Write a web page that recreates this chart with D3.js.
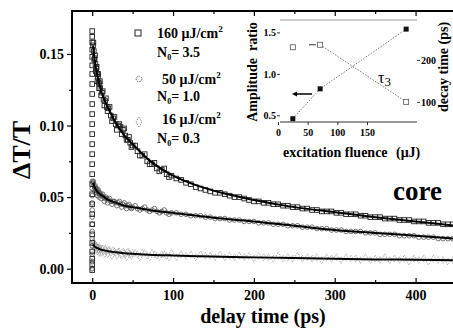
<!DOCTYPE html>
<html>
<head>
<meta charset="utf-8">
<script src="https://d3js.org/d3.v7.min.js"></script>
<style>
  body { margin: 0; background: #fff; }
  text { font-family: "Liberation Serif", "Times New Roman", serif; font-weight: bold; fill: #000; }
  .main .tick text { font-size: 14px; }
  .inset .tick text { font-size: 10px; }
  .tick line { stroke: #000; stroke-width: 1.2; }
  .inset .tick line { stroke: #333; stroke-width: 1; }
</style>
</head>
<body>
<div id="viz"></div>
<script>
// ---- data ----
const delay = [1,2,3,4,5,6,7,8,9,10,12,14,16,18,20,23,26,29,32,35,38,41,44,47,50,
  56,62,68,74,80,86,92,98,104,110,116,122,128,134,140,146,152,158,164,170,176,182,188,194,200,
  206,212,218,224,230,236,242,248,254,260,266,272,278,284,290,296,302,308,314,320,326,332,338,344,350,
  356,362,368,374,380,386,392,398,404,410,416,422,428,434,440,446];

const dtt160 = [0.156,0.152,0.147,0.143,0.140,0.136,0.134,0.130,0.129,0.126,0.123,0.118,0.117,0.113,0.112,
  0.107,0.105,0.101,0.100,0.099,0.097,0.093,0.090,0.088,0.086,
  0.082,0.079,0.075,0.073,0.070,0.069,0.066,0.065,0.063,0.062,0.060,0.059,0.057,0.056,0.055,0.054,0.053,0.053,0.052,0.051,0.050,0.050,0.049,0.048,0.047,
  0.047,0.046,0.046,0.045,0.045,0.044,0.044,0.043,0.043,0.042,0.042,0.041,0.041,0.040,0.040,0.040,0.039,0.039,0.038,0.038,0.038,0.037,0.037,0.036,0.036,
  0.036,0.035,0.035,0.035,0.034,0.034,0.034,0.033,0.033,0.033,0.032,0.032,0.032,0.031,0.031,0.031];

const dtt50 = [0.060,0.058,0.057,0.056,0.055,0.054,0.054,0.053,0.052,0.052,0.051,0.050,0.049,0.049,0.048,
  0.047,0.047,0.046,0.046,0.045,0.045,0.044,0.044,0.043,0.043,
  0.042,0.042,0.041,0.041,0.040,0.040,0.039,0.039,0.039,0.038,0.038,0.037,0.037,0.037,0.036,0.036,0.035,0.035,0.035,0.034,0.034,0.034,0.033,0.033,0.033,
  0.032,0.032,0.032,0.031,0.031,0.031,0.030,0.030,0.030,0.029,0.029,0.029,0.028,0.028,0.028,0.027,0.027,0.027,0.026,0.026,0.026,0.026,0.025,0.025,0.025,
  0.024,0.024,0.024,0.024,0.023,0.023,0.023,0.023,0.022,0.022,0.022,0.022,0.021,0.021,0.021,0.021];

const dtt16 = [0.018,0.016,0.017,0.015,0.016,0.014,0.015,0.013,0.015,0.013,0.014,0.012,0.014,0.012,0.013,
  0.011,0.013,0.011,0.012,0.010,0.012,0.010,0.012,0.010,0.011,
  0.010,0.011,0.009,0.011,0.009,0.010,0.009,0.011,0.008,0.010,0.009,0.010,0.008,0.010,0.009,0.009,0.008,0.010,0.008,0.009,0.008,0.009,0.008,0.009,0.007,
  0.009,0.008,0.008,0.007,0.009,0.007,0.008,0.007,0.009,0.007,0.008,0.007,0.008,0.006,0.008,0.007,0.008,0.006,0.008,0.007,0.007,0.006,0.008,0.006,0.007,
  0.006,0.008,0.006,0.007,0.006,0.007,0.005,0.007,0.006,0.007,0.005,0.007,0.006,0.006,0.005,0.006];

// extra scan points in the first 100 ps (noisier part)
const earlyDelay = [1.5,2.5,3.5,4.5,5.5,6.5,7.5,8.5,9.5,11,13,15,17,19,21.5,24.5,27.5,30.5,33.5,36.5,39.5,42.5,45.5,48.5,53,59,65,71,77,83,89,95];
const early160 = [0.158,0.146,0.149,0.138,0.141,0.131,0.136,0.126,0.131,0.121,0.124,0.114,0.119,0.110,0.113,0.103,0.106,0.097,0.101,0.094,0.098,0.090,0.092,0.085,0.086,0.079,0.080,0.073,0.074,0.068,0.070,0.064];
const early50 = [0.061,0.055,0.058,0.053,0.056,0.051,0.055,0.050,0.053,0.049,0.052,0.047,0.050,0.046,0.049,0.045,0.047,0.044,0.047,0.043,0.046,0.042,0.045,0.042,0.044,0.041,0.043,0.040,0.042,0.039,0.041,0.038];
const early16 = [0.019,0.014,0.017,0.013,0.016,0.012,0.015,0.011,0.014,0.011,0.014,0.010,0.013,0.010,0.013,0.009,0.012,0.009,0.012,0.009,0.011,0.008,0.011,0.009,0.011,0.008,0.011,0.008,0.010,0.008,0.010,0.008];

// rising edge at zero delay
const rise160 = [-0.001,0.003,0.007,0.012,0.018,0.024,0.031,0.038,0.045,0.052,0.059,0.066,0.073,0.080,0.087,
  0.094,0.101,0.108,0.115,0.122,0.129,0.136,0.142,0.148,0.153,0.158,0.162,0.166];
const rise50 = [0.000,0.005,0.010,0.016,0.021,0.026,0.031,0.036,0.041,0.046,0.051,0.056,0.061];
const rise16 = [0.000,0.004,0.008,0.012,0.016,0.020];

// fitted decays
const fitDelay = [1,3,6,10,15,20,30,40,50,70,100,130,160,200,250,300,350,400,450];
const fit160 = [0.156,0.146,0.136,0.126,0.118,0.112,0.101,0.093,0.087,0.076,0.065,0.058,0.053,0.048,0.043,0.0395,0.036,0.033,0.030];
const fit50  = [0.060,0.057,0.054,0.052,0.050,0.048,0.046,0.044,0.043,0.041,0.039,0.037,0.035,0.033,0.030,0.027,0.025,0.023,0.021];
const fit16  = [0.017,0.0155,0.0145,0.0135,0.0128,0.0122,0.0114,0.0108,0.0104,0.0098,0.0092,0.0087,0.0083,0.0079,0.0074,0.0069,0.0065,0.0062,0.0059];

const xTicks = [0,100,200,300,400];
const xMinor = [50,150,250,350,450];
const yTicks = [0.00,0.05,0.10,0.15];
const yMinor = [0.025,0.075,0.125];

// inset (x read against the inset's own tick labels)
const fluence = [25,71,216];
const ampRatio = [0.46,0.82,1.54];
const decayTime = [230,236,100];
const fluTicks = [0,50,100,150];
const ampTicks = [0.5,1.0,1.5];
const decTicks = [100,200];

const W = 453, H = 329;
const svg = d3.select("#viz").append("svg")
    .attr("width", W).attr("height", H);

// main scales
const x = d3.scaleLinear().domain([-25, 450]).range([72, 456]);
const y = d3.scaleLinear().domain([-0.01, 0.18]).range([283, 11]);

const main = svg.append("g").attr("class", "main");

svg.append("clipPath").attr("id", "clip")
  .append("rect").attr("x", 72).attr("y", 11).attr("width", 384).attr("height", 272);

const plot = main.append("g").attr("clip-path", "url(#clip)");

// markers, 16 uJ - faint dotted diamonds
const diamond = d3.symbol().type(d3.symbolDiamond).size(14);
const pts16 = d3.zip(delay, dtt16).concat(d3.zip(earlyDelay, early16), rise16.map(v => [0, v]));
plot.selectAll("path.p16").data(pts16).enter().append("path")
    .attr("class", "p16")
    .attr("d", diamond)
    .attr("transform", d => `translate(${x(d[0])},${y(d[1])})`)
    .attr("fill", "none").attr("stroke", "#8a8a8a").attr("stroke-width", 0.8)
    .attr("stroke-dasharray", "1,1");

// markers, 50 uJ - open circles
const pts50 = d3.zip(delay, dtt50).concat(d3.zip(earlyDelay, early50), rise50.map(v => [0, v]));
plot.selectAll("circle.p50").data(pts50).enter().append("circle")
    .attr("class", "p50")
    .attr("cx", d => x(d[0])).attr("cy", d => y(d[1])).attr("r", 2.3)
    .attr("fill", "none").attr("stroke", "#555").attr("stroke-width", 0.8);

// markers, 160 uJ - open squares
const pts160 = d3.zip(delay, dtt160).concat(d3.zip(earlyDelay, early160), rise160.map(v => [0, v]));
plot.selectAll("rect.p160").data(pts160).enter().append("rect")
    .attr("class", "p160")
    .attr("x", d => x(d[0]) - 2.3).attr("y", d => y(d[1]) - 2.3)
    .attr("width", 4.6).attr("height", 4.6)
    .attr("fill", "none").attr("stroke", "#222").attr("stroke-width", 0.9);

// fits
const line = d3.line().x(d => x(d[0])).y(d => y(d[1])).curve(d3.curveMonotoneX);
[fit160, fit50, fit16].forEach(f => {
  plot.append("path")
    .datum(d3.zip(fitDelay, f))
    .attr("d", line)
    .attr("fill", "none").attr("stroke", "#000").attr("stroke-width", 2);
});

// axes
main.append("g").attr("transform", "translate(0,283)")
    .call(d3.axisBottom(x).tickValues(xTicks).tickSize(-5).tickPadding(7))
    .call(g => g.select(".domain").remove());
main.append("g").attr("transform", "translate(0,283)")
    .call(d3.axisBottom(x).tickValues(xMinor).tickSize(-3).tickFormat(""))
    .call(g => g.select(".domain").remove());
main.append("g").attr("transform", "translate(0,11)")
    .call(d3.axisTop(x).tickValues(xTicks).tickSize(-5).tickFormat(""))
    .call(g => g.select(".domain").remove());
main.append("g").attr("transform", "translate(0,11)")
    .call(d3.axisTop(x).tickValues(xMinor).tickSize(-3).tickFormat(""))
    .call(g => g.select(".domain").remove());
main.append("g").attr("transform", "translate(72,0)")
    .call(d3.axisLeft(y).tickValues(yTicks).tickSize(5).tickPadding(3).tickFormat(d3.format(".2f")))
    .call(g => g.select(".domain").remove());
main.append("g").attr("transform", "translate(72,0)")
    .call(d3.axisLeft(y).tickValues(yMinor).tickSize(3).tickFormat(""))
    .call(g => g.select(".domain").remove());

// frame
main.append("path")
    .attr("d", "M456,11H72V283H456")
    .attr("fill", "none").attr("stroke", "#000").attr("stroke-width", 2);

// axis titles
main.append("text")
    .attr("transform", "translate(30,150) rotate(-90)")
    .attr("text-anchor", "middle").style("font-size", "26px")
    .text("ΔT/T");
main.append("text")
    .attr("x", 263).attr("y", 323)
    .attr("text-anchor", "middle").style("font-size", "20px")
    .text("delay time (ps)");
main.append("text")
    .attr("x", 393).attr("y", 200).style("font-size", "27px")
    .text("core");

// legend
const leg = main.append("g").style("font-size", "14px");
leg.append("rect").attr("x", 135).attr("y", 30).attr("width", 6).attr("height", 6)
    .attr("fill", "none").attr("stroke", "#222").attr("stroke-width", 1);
leg.append("circle").attr("cx", 139).attr("cy", 79).attr("r", 2.8)
    .attr("fill", "none").attr("stroke", "#555").attr("stroke-width", 0.9).attr("stroke-dasharray", "1.5,1");
leg.append("path").attr("d", d3.symbol().type(d3.symbolDiamond).size(30))
    .attr("transform", "translate(139,122)")
    .attr("fill", "none").attr("stroke", "#777").attr("stroke-width", 0.9).attr("stroke-dasharray", "1,1");

function fluenceLabel(xp, yp, v) {
  const t = leg.append("text").attr("x", xp).attr("y", yp);
  t.append("tspan").text(v + " μJ/cm");
  t.append("tspan").attr("dy", -6).style("font-size", "9px").text("2");
}
function nLabel(xp, yp, v) {
  const t = leg.append("text").attr("x", xp).attr("y", yp);
  t.append("tspan").text("N");
  t.append("tspan").attr("dy", 3).style("font-size", "8px").text("0");
  t.append("tspan").attr("dy", -3).text("= " + v);
}
fluenceLabel(157, 38, "160");
nLabel(157, 57, "3.5");
fluenceLabel(162, 84, "50");
nLabel(157, 101, "1.0");
fluenceLabel(162, 124, "16");
nLabel(157, 143, "0.3");

// ---- inset ----
const inset = svg.append("g").attr("class", "inset");
const ix = d3.scaleLinear().domain([0, 150]).range([278, 367]);
const iyL = d3.scaleLinear().domain([0.42, 1.65]).range([122, 20]);
const iyR = d3.scaleLinear().domain([52, 295]).range([122, 20]);

inset.append("line").attr("x1", 280).attr("x2", 417).attr("y1", 20).attr("y2", 20)
    .attr("stroke", "#999").attr("stroke-width", 1.2);
inset.append("line").attr("x1", 280).attr("x2", 417).attr("y1", 122).attr("y2", 122)
    .attr("stroke", "#333").attr("stroke-width", 1.2);

inset.append("g").attr("transform", "translate(0,122)")
    .call(d3.axisBottom(ix).tickValues(fluTicks).tickSize(3).tickPadding(4))
    .call(g => g.select(".domain").remove());
inset.append("g").attr("transform", "translate(280,0)")
    .call(d3.axisLeft(iyL).tickValues(ampTicks).tickSize(3).tickPadding(1).tickFormat(d3.format(".1f")))
    .call(g => g.select(".domain").remove());
inset.append("g").attr("transform", "translate(417,0)")
    .call(d3.axisRight(iyR).tickValues(decTicks).tickSize(3).tickPadding(1))
    .call(g => g.select(".domain").remove());

// amplitude ratio: filled squares, dotted line
inset.append("path")
    .datum(d3.zip(fluence, ampRatio))
    .attr("d", d3.line().x(d => ix(d[0])).y(d => iyL(d[1])))
    .attr("fill", "none").attr("stroke", "#555").attr("stroke-width", 0.8).attr("stroke-dasharray", "1.5,1.5");
inset.selectAll("rect.amp").data(d3.zip(fluence, ampRatio)).enter().append("rect")
    .attr("class", "amp")
    .attr("x", d => ix(d[0]) - 2.5).attr("y", d => iyL(d[1]) - 2.5)
    .attr("width", 5).attr("height", 5).attr("fill", "#111");

// decay time: open squares, dotted line from 2nd point on
inset.append("path")
    .datum(d3.zip(fluence, decayTime).slice(1))
    .attr("d", d3.line().x(d => ix(d[0])).y(d => iyR(d[1])))
    .attr("fill", "none").attr("stroke", "#555").attr("stroke-width", 0.8).attr("stroke-dasharray", "1.5,1.5");
inset.selectAll("rect.dec").data(d3.zip(fluence, decayTime)).enter().append("rect")
    .attr("class", "dec")
    .attr("x", d => ix(d[0]) - 2.5).attr("y", d => iyR(d[1]) - 2.5)
    .attr("width", 5).attr("height", 5).attr("fill", "#fff")
    .attr("stroke", "#555").attr("stroke-width", 0.8);

// axis pointers
inset.append("line").attr("x1", 312).attr("x2", 296).attr("y1", 94).attr("y2", 94)
    .attr("stroke", "#000").attr("stroke-width", 1.5);
inset.append("path").attr("d", "M292,94l5,-2.5v5z").attr("fill", "#000");
inset.append("line").attr("x1", 309).attr("x2", 316).attr("y1", iyR(decayTime[1])).attr("y2", iyR(decayTime[1]))
    .attr("stroke", "#333").attr("stroke-width", 1);

const tau = inset.append("text").attr("x", 378).attr("y", 83).style("font-size", "16px").style("font-weight", "normal");
tau.append("tspan").text("τ");
tau.append("tspan").attr("dy", 3).style("font-size", "13px").text("3");

inset.append("text")
    .attr("transform", "translate(257,72) rotate(-90)")
    .attr("text-anchor", "middle").style("font-size", "14px")
    .text("Amplitude\u2002ratio");
inset.append("text")
    .attr("transform", "translate(448,67) rotate(-90)")
    .attr("text-anchor", "middle").style("font-size", "14px")
    .text("decay time (ps)");
inset.append("text").attr("x", 283).attr("y", 157).style("font-size", "14px")
    .text("excitation fluence");
inset.append("text").attr("x", 396).attr("y", 157).style("font-size", "14px")
    .text("(μJ)");
</script>
</body>
</html>
